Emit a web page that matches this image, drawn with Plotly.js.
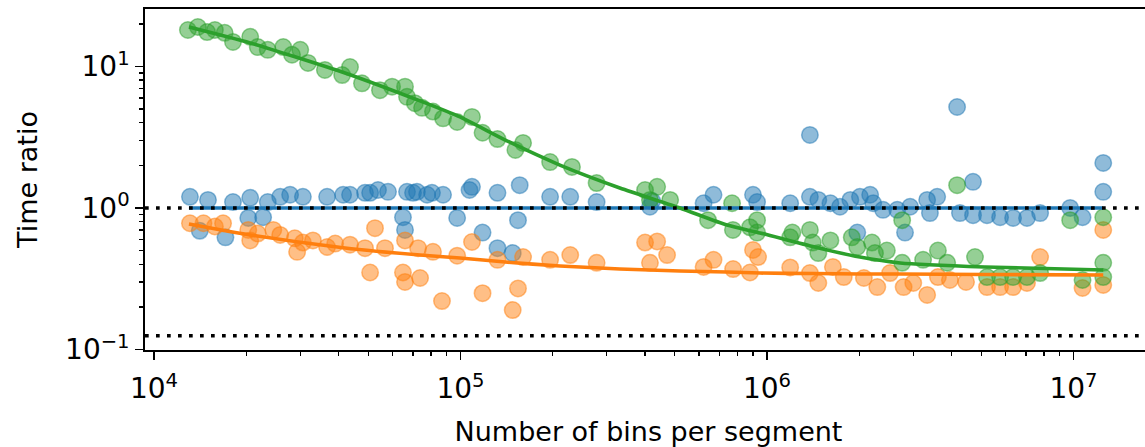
<!DOCTYPE html>
<html>
<head>
<meta charset="utf-8">
<script src="https://cdn.plot.ly/plotly-3.0.1.min.js"></script>
<style>
  html, body { margin: 0; padding: 0; overflow: hidden; background: #fff; }
</style>
</head>
<body>
<div id="chart"></div>
<script>
// Measured time ratios against the number of bins per segment.
const blueX = [1.31e4, 1.50e4, 1.41e4, 1.71e4, 1.81e4, 2.06e4, 2.03e4, 2.27e4, 2.35e4, 2.58e4,
  2.78e4, 3.06e4, 3.67e4, 4.14e4, 4.36e4, 4.88e4, 5.07e4, 5.38e4, 5.80e4, 6.49e4,
  6.59e4, 6.69e4, 7.00e4, 7.21e4, 7.78e4, 8.07e4, 8.77e4, 9.75e4, 1.07e5, 1.09e5,
  1.18e5, 1.32e5, 1.32e5, 1.48e5, 1.54e5, 1.56e5, 1.96e5, 2.28e5, 2.78e5, 4.15e5,
  4.22e5, 6.21e5, 6.69e5, 9.00e5, 9.28e5, 1.19e6, 1.38e6, 1.38e6, 1.47e6, 1.61e6,
  1.73e6, 1.87e6, 1.97e6, 2.01e6, 2.17e6, 2.22e6, 2.39e6, 2.66e6, 2.82e6, 2.93e6,
  3.33e6, 3.40e6, 3.59e6, 4.17e6, 4.26e6, 4.70e6, 4.70e6, 5.22e6, 5.76e6, 6.35e6,
  7.05e6, 7.78e6, 9.75e6, 1.07e7, 1.25e7, 1.25e7];
const blueY = [1.20, 1.14, 0.69, 0.62, 1.10, 1.18, 0.85, 0.86, 1.10, 1.20,
  1.24, 1.20, 1.20, 1.24, 1.24, 1.28, 1.28, 1.34, 1.30, 0.86,
  0.70, 1.30, 1.28, 1.30, 1.24, 1.28, 1.24, 0.85, 1.34, 1.41,
  0.67, 1.28, 0.52, 0.48, 0.82, 1.45, 1.20, 1.20, 1.10, 1.02,
  1.12, 1.08, 1.24, 1.24, 1.10, 1.08, 1.20, 3.28, 1.14, 1.08,
  1.02, 1.14, 0.67, 1.20, 1.24, 1.08, 0.97, 0.97, 0.67, 1.02,
  1.14, 0.92, 1.20, 5.17, 0.92, 1.53, 0.89, 0.89, 0.86, 0.85,
  0.85, 0.92, 1.00, 0.86, 2.08, 1.30];

const orangeX = [1.31e4, 1.45e4, 1.58e4, 1.68e4, 2.03e4, 2.06e4, 2.18e4, 2.45e4, 2.58e4, 2.88e4,
  2.93e4, 3.06e4, 3.30e4, 3.67e4, 3.90e4, 4.36e4, 4.88e4, 5.07e4, 5.26e4, 5.67e4,
  6.59e4, 6.59e4, 6.49e4, 7.38e4, 7.27e4, 8.13e4, 8.70e4, 9.75e4, 1.09e5, 1.18e5,
  1.32e5, 1.48e5, 1.54e5, 1.60e5, 1.96e5, 2.28e5, 2.78e5, 4.00e5, 4.38e5, 4.15e5,
  4.72e5, 6.21e5, 6.69e5, 7.75e5, 8.80e5, 9.00e5, 9.35e5, 1.19e6, 1.38e6, 1.47e6,
  1.64e6, 1.78e6, 2.07e6, 2.29e6, 2.52e6, 2.79e6, 3.00e6, 3.33e6, 3.61e6, 3.95e6,
  4.46e6, 5.22e6, 5.76e6, 6.35e6, 7.05e6, 7.78e6, 1.07e7, 1.25e7, 1.25e7];
const orangeY = [0.78, 0.78, 0.74, 0.78, 0.70, 0.59, 0.66, 0.70, 0.645, 0.61,
  0.49, 0.57, 0.59, 0.53, 0.56, 0.55, 0.52, 0.35, 0.72, 0.52,
  0.59, 0.30, 0.35, 0.32, 0.52, 0.49, 0.22, 0.46, 0.575, 0.25,
  0.43, 0.19, 0.27, 0.45, 0.43, 0.465, 0.41, 0.57, 0.58, 0.41,
  0.465, 0.383, 0.43, 0.37, 0.35, 0.505, 0.45, 0.38, 0.347, 0.295,
  0.383, 0.325, 0.32, 0.276, 0.347, 0.276, 0.295, 0.243, 0.325, 0.31,
  0.30, 0.276, 0.276, 0.276, 0.295, 0.45, 0.272, 0.70, 0.286];

const greenX = [1.29e4, 1.39e4, 1.49e4, 1.58e4, 1.70e4, 1.81e4, 2.06e4, 2.18e4, 2.35e4, 2.64e4,
  2.82e4, 3.00e4, 3.18e4, 3.61e4, 4.11e4, 4.36e4, 4.77e4, 5.46e4, 5.98e4, 6.59e4,
  6.69e4, 7.10e4, 7.49e4, 8.13e4, 8.77e4, 9.75e4, 1.09e5, 1.18e5, 1.32e5, 1.51e5,
  1.60e5, 1.96e5, 2.31e5, 2.78e5, 4.00e5, 4.15e5, 4.38e5, 4.83e5, 6.42e5, 7.69e5,
  7.74e5, 8.80e5, 9.28e5, 9.28e5, 1.19e6, 1.21e6, 1.38e6, 1.41e6, 1.47e6, 1.61e6,
  1.89e6, 1.97e6, 2.20e6, 2.25e6, 2.46e6, 2.76e6, 2.76e6, 3.23e6, 3.61e6, 3.87e6,
  4.17e6, 4.77e6, 5.22e6, 5.76e6, 6.35e6, 7.05e6, 7.78e6, 9.75e6, 1.07e7, 1.25e7,
  1.25e7, 1.25e7];
const greenY = [18.1, 19.0, 17.5, 18.1, 17.3, 14.9, 16.2, 13.7, 13.1, 13.7,
  12.1, 13.1, 10.6, 9.45, 8.7, 9.9, 7.6, 6.8, 7.2, 7.2,
  6.1, 5.5, 5.1, 4.8, 4.3, 4.05, 4.4, 3.4, 3.07, 2.57,
  2.88, 2.11, 1.95, 1.5, 1.34, 1.14, 1.41, 1.14, 0.82, 1.08,
  0.70, 0.73, 0.82, 0.67, 0.62, 0.67, 0.70, 0.57, 0.48, 0.59,
  0.62, 0.53, 0.57, 0.48, 0.50, 0.82, 0.41, 0.43, 0.50, 0.41,
  1.45, 0.45, 0.325, 0.325, 0.325, 0.325, 0.347, 0.82, 0.31, 0.86,
  0.41, 0.325];

// Fitted trends, sampled along the bin-count axis.
const fitX = [1.3e4, 2.06e4, 4.2e4, 7.38e4, 9.96e4, 1.4e5, 2.11e5, 3.31e5, 5.2e5, 7.4e5,
  9.49e5, 1.43e6, 2.01e6, 2.72e6, 5.14e6, 1.25e7];
const fitBlue = [1.0, 1.0, 1.0, 1.0, 1.0, 1.0, 1.0, 1.0, 1.0, 1.0,
  1.0, 1.0, 1.0, 1.0, 1.0, 1.0];
const fitOrange = [0.771, 0.645, 0.522, 0.465, 0.443, 0.415, 0.389, 0.371, 0.359, 0.353,
  0.347, 0.344, 0.342, 0.342, 0.339, 0.336];
const fitGreen = [19.0, 14.66, 9.0, 5.71, 4.40, 3.02, 2.01, 1.385, 1.0, 0.758,
  0.666, 0.530, 0.450, 0.409, 0.383, 0.365];

// Reference levels drawn as dotted horizontal rules.
const refLevels = [1.0, 0.125];

const xTickVals = [1e4, 1e5, 1e6, 1e7];
const xTickText = ['10<sup>4</sup>', '10<sup>5</sup>', '10<sup>6</sup>', '10<sup>7</sup>'];
const yTickVals = [0.1, 1, 10];
const yTickText = ['10<sup>\u22121</sup>', '10<sup>0</sup>', '10<sup>1</sup>'];

const colors = { blue: [31, 119, 180], orange: [255, 127, 14], green: [44, 160, 44] };
const rgba = (c, a) => `rgba(${c[0]},${c[1]},${c[2]},${a})`;

function minorLogTicks(lo, hi) {
  const vals = [];
  for (let e = lo; e <= hi; e++) {
    for (let m = 2; m <= 9; m++) vals.push(m * Math.pow(10, e));
  }
  return vals;
}

function scatter(x, y, c) {
  return {
    type: 'scatter', mode: 'markers', x: x, y: y, hoverinfo: 'skip',
    marker: { size: 16.5, color: rgba(c, 0.5), line: { width: 1.5, color: rgba(c, 0.5) } }
  };
}
function fitLine(y, c) {
  return {
    type: 'scatter', mode: 'lines', x: fitX, y: y, hoverinfo: 'skip',
    line: { color: rgba(c, 1), width: 3.6, shape: 'spline', smoothing: 0.6 }
  };
}

const data = [
  scatter(blueX, blueY, colors.blue),
  scatter(orangeX, orangeY, colors.orange),
  scatter(greenX, greenY, colors.green),
  fitLine(fitBlue, colors.blue),
  fitLine(fitOrange, colors.orange),
  fitLine(fitGreen, colors.green)
];

const font = { family: 'DejaVu Sans', color: '#000' };

const axisCommon = {
  type: 'log', showgrid: false, zeroline: false,
  showline: true, mirror: true, linecolor: '#000', linewidth: 1.8,
  ticks: 'outside', ticklen: 8, tickwidth: 1.8, tickcolor: '#000',
  tickmode: 'array', fixedrange: true
};

const layout = {
  width: 1160, height: 447,
  margin: { l: 145, r: 8, t: 9, b: 97 },
  paper_bgcolor: '#fff', plot_bgcolor: '#fff',
  showlegend: false,
  font: Object.assign({ size: 27 }, font),
  xaxis: Object.assign({}, axisCommon, {
    range: [3.9706, 7.256],
    tickvals: xTickVals, ticktext: xTickText,
    tickfont: Object.assign({ size: 28 }, font),
    ticklabelstandoff: 5,
    minor: { tickvals: minorLogTicks(3, 7), ticks: 'outside', ticklen: 4.5, tickwidth: 1.4, tickcolor: '#000' },
    title: { text: 'Number of bins per segment', font: Object.assign({ size: 27 }, font), standoff: 18 }
  }),
  yaxis: Object.assign({}, axisCommon, {
    range: [-1.0035, 1.406],
    tickvals: yTickVals, ticktext: yTickText,
    tickfont: Object.assign({ size: 28 }, font),
    minor: { tickvals: minorLogTicks(-2, 1), ticks: 'outside', ticklen: 4.5, tickwidth: 1.4, tickcolor: '#000' },
    title: { text: 'Time ratio', font: Object.assign({ size: 27 }, font), standoff: 20 }
  }),
  shapes: refLevels.map(v => ({
    type: 'line', xref: 'paper', x0: 0, x1: 1, yref: 'y', y0: v, y1: v,
    layer: 'above', line: { color: '#000', width: 3.5, dash: '3.7px,7.3px' }
  }))
};

Plotly.newPlot('chart', data, layout, { staticPlot: true, displayModeBar: false });
</script>
</body>
</html>
